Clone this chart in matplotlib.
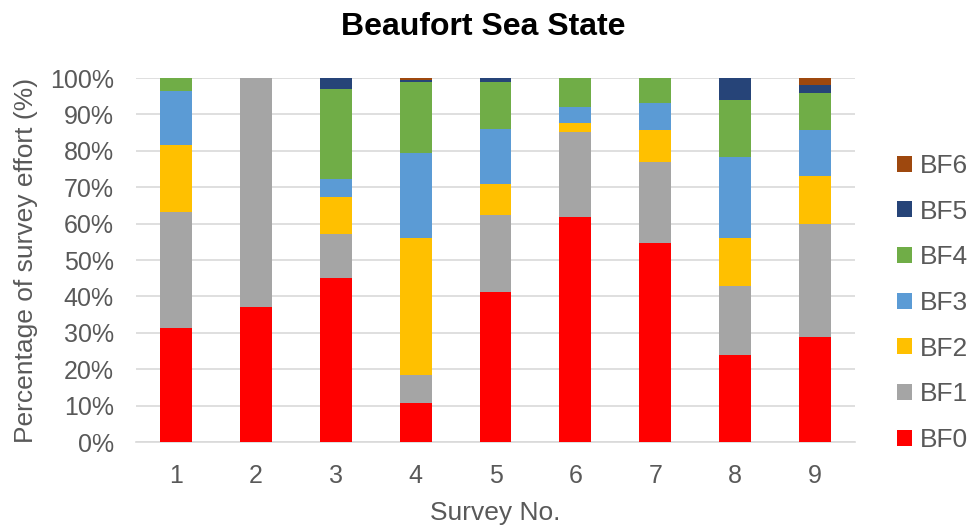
import numpy as np
import matplotlib.pyplot as plt

plt.rcParams['font.family'] = ['Liberation Sans', 'DejaVu Sans']

# Survey numbers and share of effort (%) per Beaufort class
surveys = ['1', '2', '3', '4', '5', '6', '7', '8', '9']
bf0 = [31.4, 37.0, 45.1, 10.6, 41.3, 61.7, 54.7, 24.0, 28.9]
bf1 = [31.7, 63.0, 12.1, 7.7, 21.1, 23.6, 22.1, 18.9, 31.0]
bf2 = [18.4, 0.0, 10.1, 37.8, 8.5, 2.3, 8.9, 13.2, 13.1]
bf3 = [14.8, 0.0, 5.0, 23.3, 15.1, 4.4, 7.4, 22.2, 12.8]
bf4 = [3.7, 0.0, 24.7, 19.4, 12.8, 8.0, 6.9, 15.6, 10.2]
bf5 = [0.0, 0.0, 3.0, 0.7, 1.2, 0.0, 0.0, 6.1, 2.1]
bf6 = [0.0, 0.0, 0.0, 0.5, 0.0, 0.0, 0.0, 0.0, 1.9]

series = [bf0, bf1, bf2, bf3, bf4, bf5, bf6]
names = ['BF0', 'BF1', 'BF2', 'BF3', 'BF4', 'BF5', 'BF6']
colors = ['#ff0000', '#a5a5a5', '#ffc000', '#5b9bd5', '#70ad47', '#264478', '#9e480e']

grey = '#595959'

fig = plt.figure(figsize=(9.67, 5.29), dpi=100)
# plot area: x 136..855 px, y 78..442 px
ax = fig.add_axes([136 / 967, 1 - 442 / 529, 719 / 967, 364 / 529])

x = np.arange(1, len(surveys) + 1)
bottom = np.zeros(len(surveys))
bars = []
for vals, name, c in zip(series, names, colors):
    b = ax.bar(x, vals, width=0.4, bottom=bottom, color=c, label=name, zorder=3)
    bars.append(b)
    bottom += np.array(vals)

ax.set_xlim(0.5, 9.5)
ax.set_ylim(0, 100)
ax.set_yticks(np.arange(0, 101, 10))
ax.set_yticklabels([f'{v}%' for v in range(0, 101, 10)])
ax.set_xticks(x)
ax.set_xticklabels(surveys)
ax.tick_params(axis='both', length=0, colors=grey, labelsize=18)
ax.tick_params(axis='y', pad=16)
ax.tick_params(axis='x', pad=16)

ax.yaxis.grid(True, color='#d9d9d9', linewidth=1.2, zorder=0)
ax.set_axisbelow(True)
for s in ['top', 'right', 'left']:
    ax.spines[s].set_visible(False)
ax.spines['bottom'].set_color('#d9d9d9')
ax.spines['bottom'].set_linewidth(1.2)

ax.set_xlabel('Survey No.', color=grey, fontsize=19)
ax.xaxis.set_label_coords(0.5, -0.162)
ax.set_ylabel('Percentage of survey effort (%)', color=grey, fontsize=19)
ax.yaxis.set_label_coords(-0.136, 0.5)
fig.text(0.5, 1 - 27 / 529, 'Beaufort Sea State', fontsize=23, fontweight='bold',
         ha='center', va='center')

leg = fig.legend(bars[::-1], names[::-1], loc='center left',
                 bbox_to_anchor=(897 / 967, 1 - 303 / 529), bbox_transform=fig.transFigure,
                 frameon=False, fontsize=19, handlelength=0.55, handleheight=0.55,
                 labelspacing=0.82, handletextpad=0.3, borderpad=0, borderaxespad=0)
for t in leg.get_texts():
    t.set_color(grey)

fig.savefig('out.png', dpi=100)
